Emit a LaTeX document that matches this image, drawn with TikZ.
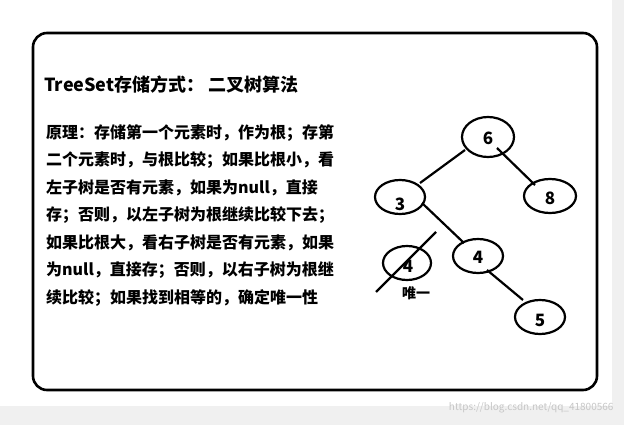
\documentclass[tikz,border=0pt]{standalone}
\usepackage{fontspec}
\newfontfamily\cjk{Noto Sans CJK SC}
\newcommand\cjkb{\cjk\bfseries}
\begin{document}
\begin{tikzpicture}[x=1pt,y=-1pt,
  el/.style={draw,line width=2.2pt},
  lbl/.style={font=\cjkb\fontsize{17}{17}\selectfont},
  edge/.style={line width=2.2pt},
  txt/.style={anchor=west,inner sep=0,font=\cjkb\fontsize{16}{16}\selectfont}]
\useasboundingbox (0,0) rectangle (624,425);
\fill[gray!12] (0,0) rectangle (624,425);
\fill[white] (0,0) rectangle (612,406);
\node[anchor=east,text=gray!45,font=\cjk\fontsize{10}{10}\selectfont] (wm) at (617,408) {https://blog.csdn.net/qq\_41800566};
\draw[line width=2.6pt,rounded corners=14pt] (33,33) rectangle (597,390);
\node[txt,font=\cjkb\fontsize{18}{18}\selectfont] (title) at (44,85) {TreeSet存储方式： 二叉树算法};
\node[txt] (l1) at (46,133) {原理：存储第一个元素时，作为根；存第};
\node[txt] (l2) at (46,160.5) {二个元素时，与根比较；如果比根小，看};
\node[txt] (l3) at (46,188) {左子树是否有元素，如果为null，直接};
\node[txt] (l4) at (46,215.5) {存；否则，以左子树为根继续比较下去；};
\node[txt] (l5) at (46,243) {如果比根大，看右子树是否有元素，如果};
\node[txt] (l6) at (46,270.5) {为null，直接存；否则，以右子树为根继};
\node[txt] (l7) at (46,298) {续比较；如果找到相等的，确定唯一性};
\draw[el] (488,137) ellipse [x radius=26, y radius=20];
\draw[el] (400,197) ellipse [x radius=25, y radius=17];
\draw[el] (550,196) ellipse [x radius=26, y radius=17];
\draw[el] (478,256) ellipse [x radius=25, y radius=17];
\draw[el] (407,263) ellipse [x radius=24, y radius=17];
\draw[el] (540,317) ellipse [x radius=25, y radius=17];
\node[lbl] (n6) at (488,138) {6};
\node[lbl] (n3) at (400,204) {3};
\node[lbl] (n8) at (550,198) {8};
\node[lbl] (n4) at (478,257) {4};
\node[lbl] (n4x) at (408,266) {4};
\node[lbl] (n5) at (540,320) {5};
\coordinate (a6) at (465,150);
\coordinate (b3) at (420,183);
\coordinate (c6) at (497,148);
\coordinate (d8) at (535,185);
\coordinate (e3) at (422,203);
\coordinate (f4) at (464,243);
\coordinate (g4) at (487,270);
\coordinate (h5) at (523,300);
\draw[edge] (a6) -- (b3);
\draw[edge] (c6) -- (d8);
\draw[edge] (e3) -- (f4);
\draw[edge] (g4) -- (h5);
\coordinate (x1) at (436,232);
\coordinate (x2) at (376,292);
\draw[edge] (x1) -- (x2);
\node[font=\cjkb\fontsize{14}{14}\selectfont] (wy) at (416,293) {唯一};
\end{tikzpicture}
\end{document}
